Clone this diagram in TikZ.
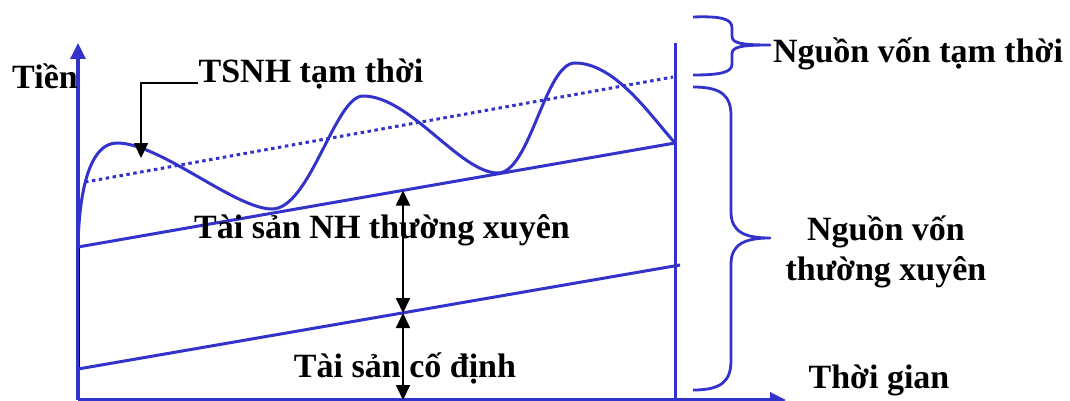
\documentclass[tikz,border=0pt]{standalone}
\usepackage{fontspec}
\setmainfont{Liberation Serif}
\usetikzlibrary{arrows.meta}
\definecolor{bl}{RGB}{51,51,204}
\begin{document}
\begin{tikzpicture}[x=1pt,y=-1pt,
  bline/.style={draw=bl,line width=3pt},
  axis/.style={draw=bl,line width=3.4pt,-{Triangle[width=15pt,length=16pt]}},
  lbl/.style={font=\fontsize{34}{40}\selectfont\bfseries,inner sep=0pt,anchor=base},
  harrow/.style={draw=black,line width=1.8pt,-{Triangle[width=14pt,length=15pt]}},
  dharrow/.style={draw=black,line width=1.8pt,{Triangle[width=14pt,length=15pt]}-{Triangle[width=14pt,length=15pt]}},
  brace/.style={draw=bl,line width=2.8pt,line join=round}]
\useasboundingbox (0,0) rectangle (1070,401);
% coordinates
\coordinate (O) at (78,400);
\coordinate (Ytip) at (78,43);
\coordinate (Xtip) at (786,400);
\coordinate (Vtop) at (675,43);
\coordinate (Vbot) at (675,400);
\coordinate (L1a) at (78,369);
\coordinate (L1b) at (680,265);
\coordinate (L2a) at (78,247);
\coordinate (L2b) at (675,143);
\coordinate (Da) at (85,182);
\coordinate (Db) at (673,77);
\coordinate (A1) at (403,190.5);
\coordinate (A2) at (403,313);
\coordinate (A3) at (403,400);
\coordinate (Ttip) at (141,158);
% axes
\draw[axis] (O) -- (Ytip);
\draw[axis] (O) -- (Xtip);
\draw[draw=black,line width=1.4pt] ([xshift=1.2pt]L2a) -- ([xshift=1.2pt]L1a);
\draw[bline] (Vbot) -- (Vtop);
% lines
\draw[bline] (L1a) -- (L1b);
\draw[bline] (L2a) -- (L2b);
\draw[draw=bl,line width=3pt,dash pattern=on 3.5pt off 3.5pt] (Da) -- (Db);
% wave
\draw[bline] (L2a) .. controls (79,190) and (90,143) .. (117,143)
  .. controls (160,143) and (235,209) .. (272,209)
  .. controls (310,209) and (335,96) .. (363,96)
  .. controls (410,96) and (460,173) .. (498,173)
  .. controls (530,173) and (545,63) .. (575,63)
  .. controls (615,63) and (650,115) .. (L2b);
% braces
\draw[brace] (693,17) .. controls (722,16) and (732,19) .. (732,28) -- (732,36)
  .. controls (732,43) and (740,45) .. (770,45)
  .. controls (740,45) and (732,47) .. (732,54) -- (732,64)
  .. controls (732,72) and (722,75) .. (693,75);
\draw[brace] (693,87) .. controls (722,87) and (731,96) .. (731,116) -- (731,212)
  .. controls (731,232) and (745,238) .. (770,238)
  .. controls (745,238) and (731,244) .. (731,264) -- (731,360)
  .. controls (731,381) and (722,390) .. (693,390);
% labels
\node[lbl] (tien) at (45,89) {Tiền};
\node[lbl] (tsnh) at (311,83) {TSNH tạm thời};
\node[lbl] (tsnhx) at (382,238) {Tài sản NH thường xuyên};
\node[lbl] (tscd) at (405,377) {Tài sản cố định};
\node[lbl] (nvtt) at (918,63) {Nguồn vốn tạm thời};
\node[lbl] (nvtx1) at (886,240) {Nguồn vốn};
\node[lbl] (nvtx2) at (886,280) {thường xuyên};
\node[lbl] (tg) at (879,388) {Thời gian};
% black arrows
\draw[harrow] (tsnh.base west) -| (Ttip);
\draw[dharrow] (A1) -- (A2);
\draw[dharrow] (A2) -- (A3);
\end{tikzpicture}
\end{document}
